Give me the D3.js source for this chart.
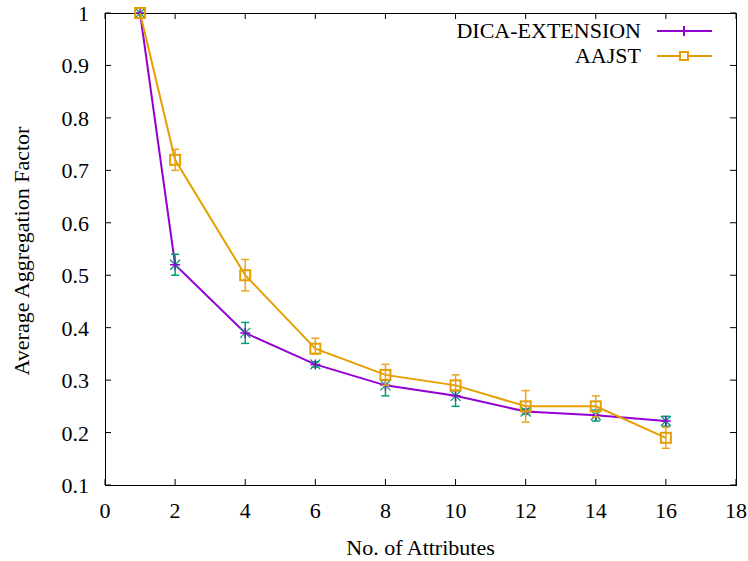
<!DOCTYPE html>
<html>
<head>
<meta charset="utf-8">
<script src="https://cdn.jsdelivr.net/npm/d3@7"></script>
<style>
  body { margin: 0; background: #fff; }
  text { font-family: "Liberation Serif", "DejaVu Serif", serif; fill: #000; }
</style>
</head>
<body>
<svg id="chart" width="748" height="561"></svg>
<script>
const attributes = [1, 2, 4, 6, 8, 10, 12, 14, 16];

const dicaMean = [1.0, 0.52, 0.39, 0.33, 0.29, 0.27, 0.24, 0.233, 0.222];
const dicaLow  = [1.0, 0.50, 0.37, 0.325, 0.27, 0.25, 0.235, 0.222, 0.212];
const dicaHigh = [1.0, 0.54, 0.41, 0.335, 0.30, 0.28, 0.245, 0.243, 0.231];

const aajstMean = [1.0, 0.72, 0.50, 0.36, 0.31, 0.29, 0.25, 0.25, 0.19];
const aajstLow  = [1.0, 0.70, 0.47, 0.35, 0.29, 0.28, 0.22, 0.23, 0.17];
const aajstHigh = [1.0, 0.74, 0.53, 0.38, 0.33, 0.31, 0.28, 0.27, 0.21];

const xTicks = [0, 2, 4, 6, 8, 10, 12, 14, 16, 18];
const yTicks = [0.1, 0.2, 0.3, 0.4, 0.5, 0.6, 0.7, 0.8, 0.9, 1];

const svg = d3.select('#chart');
const margin = { left: 105, right: 12, top: 13, bottom: 76 };
const width = 748 - margin.left - margin.right;
const height = 561 - margin.top - margin.bottom;
const fontSize = 22;

const x = d3.scaleLinear().domain([0, 18]).range([margin.left, margin.left + width]);
const y = d3.scaleLinear().domain([0.1, 1]).range([margin.top + height, margin.top]);

const tickLen = 6;
const axes = svg.append('g').attr('stroke', '#000').attr('stroke-width', 1);

// inward ticks on all four sides
xTicks.forEach(t => {
  axes.append('line').attr('x1', x(t)).attr('x2', x(t))
    .attr('y1', y(0.1)).attr('y2', y(0.1) - tickLen);
  axes.append('line').attr('x1', x(t)).attr('x2', x(t))
    .attr('y1', y(1)).attr('y2', y(1) + tickLen);
});
yTicks.forEach(t => {
  axes.append('line').attr('x1', x(0)).attr('x2', x(0) + tickLen)
    .attr('y1', y(t)).attr('y2', y(t));
  axes.append('line').attr('x1', x(18)).attr('x2', x(18) - tickLen)
    .attr('y1', y(t)).attr('y2', y(t));
});

svg.append('rect')
  .attr('x', x(0) + 0.5).attr('y', y(1) + 0.5)
  .attr('width', x(18) - x(0)).attr('height', y(0.1) - y(1))
  .attr('fill', 'none').attr('stroke', '#000').attr('stroke-width', 1);

svg.append('g').selectAll('text').data(xTicks).enter().append('text')
  .attr('x', d => x(d)).attr('y', y(0.1) + 33)
  .attr('text-anchor', 'middle').attr('font-size', fontSize)
  .text(d => d);

svg.append('g').selectAll('text').data(yTicks).enter().append('text')
  .attr('x', x(0) - 16).attr('y', d => y(d) + 8)
  .attr('text-anchor', 'end').attr('font-size', fontSize)
  .text(d => d === 1 ? '1' : d.toFixed(1));

svg.append('text')
  .attr('x', x(9)).attr('y', 555)
  .attr('text-anchor', 'middle').attr('font-size', fontSize)
  .text('No. of Attributes');

svg.append('text')
  .attr('transform', `translate(29, 251) rotate(-90)`)
  .attr('text-anchor', 'middle').attr('font-size', fontSize)
  .text('Average Aggregation Factor');

const line = d3.line().x(d => x(d[0])).y(d => y(d[1]));

function drawSeries(mean, low, high, color, errColor, marker) {
  const g = svg.append('g');
  g.append('path')
    .datum(attributes.map((a, i) => [a, mean[i]]))
    .attr('fill', 'none').attr('stroke', color).attr('stroke-width', 2)
    .attr('d', line);

  attributes.forEach((a, i) => {
    if (high[i] - low[i] > 0) {
      g.append('line').attr('x1', x(a)).attr('x2', x(a))
        .attr('y1', y(low[i])).attr('y2', y(high[i]))
        .attr('stroke', errColor).attr('stroke-width', 1.5);
      [low[i], high[i]].forEach(v => {
        g.append('line').attr('x1', x(a) - 4).attr('x2', x(a) + 4)
          .attr('y1', y(v)).attr('y2', y(v))
          .attr('stroke', errColor).attr('stroke-width', 1.5);
      });
    }
    marker(g, x(a), y(mean[i]));
  });
}

function plusX(g, cx, cy) {
  const s = 5;
  g.append('path')
    .attr('d', `M${cx - s},${cy - s}L${cx + s},${cy + s}M${cx - s},${cy + s}L${cx + s},${cy - s}`)
    .attr('stroke', '#009e73').attr('stroke-width', 1.3);
  g.append('path')
    .attr('d', `M${cx - 5},${cy}L${cx + 5},${cy}M${cx},${cy - 5}L${cx},${cy + 5}`)
    .attr('stroke', '#9400d3').attr('stroke-width', 1.5);
}

function square(g, cx, cy) {
  g.append('rect').attr('x', cx - 5).attr('y', cy - 5)
    .attr('width', 10).attr('height', 10)
    .attr('fill', 'none').attr('stroke', '#e69f00').attr('stroke-width', 2);
}

drawSeries(dicaMean, dicaLow, dicaHigh, '#9400d3', '#009e73', plusX);
drawSeries(aajstMean, aajstLow, aajstHigh, '#e69f00', '#eaa520', square);

// legend
const legend = svg.append('g');
const legendItems = [
  { label: 'DICA-EXTENSION', color: '#9400d3', y: 31, marker: 'plus' },
  { label: 'AAJST', color: '#e69f00', y: 56, marker: 'square' },
];
legendItems.forEach(item => {
  legend.append('text').attr('x', 641).attr('y', item.y + 7)
    .attr('text-anchor', 'end').attr('font-size', fontSize).text(item.label);
  legend.append('line').attr('x1', 657).attr('x2', 712)
    .attr('y1', item.y).attr('y2', item.y)
    .attr('stroke', item.color).attr('stroke-width', 2);
  if (item.marker === 'plus') {
    legend.append('line').attr('x1', 684).attr('x2', 684)
      .attr('y1', item.y - 5).attr('y2', item.y + 5)
      .attr('stroke', item.color).attr('stroke-width', 2);
  } else {
    legend.append('rect').attr('x', 680).attr('y', item.y - 4)
      .attr('width', 8).attr('height', 8)
      .attr('fill', '#fff').attr('stroke', item.color).attr('stroke-width', 2);
  }
});
</script>
</body>
</html>
